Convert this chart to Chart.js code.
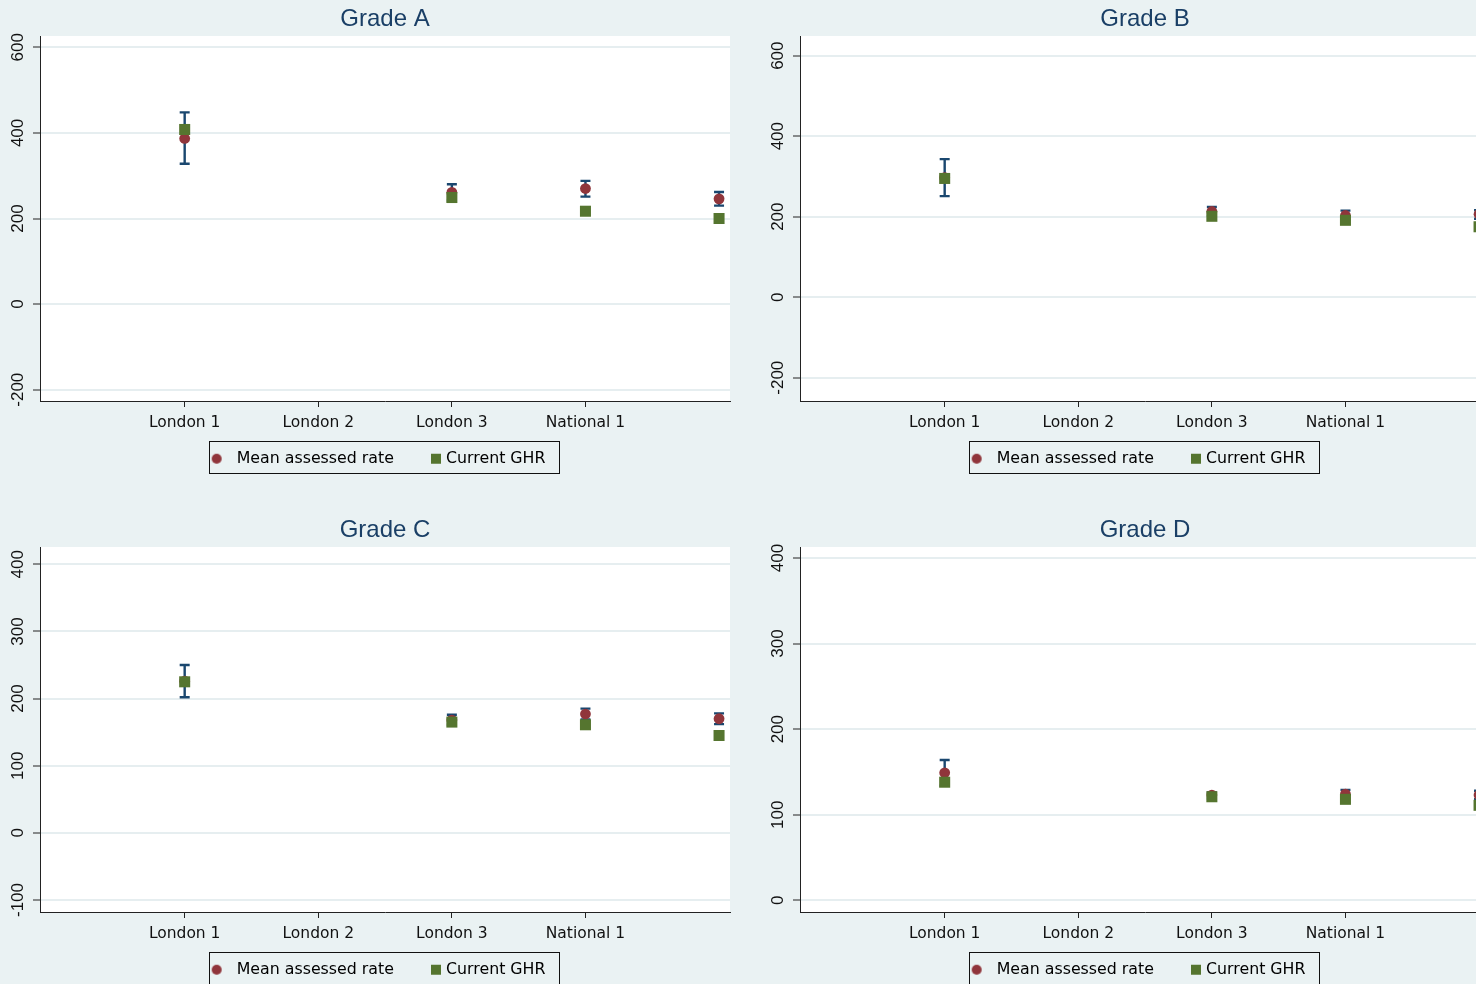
<!DOCTYPE html>
<html>
<head>
<meta charset="utf-8">
<script src="https://cdn.jsdelivr.net/npm/chart.js@4.4.1/dist/chart.umd.min.js"></script>
<style>
  html, body { margin: 0; padding: 0; background: #eaf2f3; }
  body { width: 1476px; height: 984px; overflow: hidden; position: relative; }
  canvas { position: absolute; }
</style>
</head>
<body>
<canvas id="gradeA"></canvas>
<canvas id="gradeB"></canvas>
<canvas id="gradeC"></canvas>
<canvas id="gradeD"></canvas>
<script>
// ---- data -------------------------------------------------------------
// Labelled groups on the x axis (the fifth group carries no label)
const categories = ['London 1', 'London 2', 'London 3', 'National 1'];
const seriesNames = ['Mean assessed rate', 'Current GHR'];
const grades = ['Grade A', 'Grade B', 'Grade C', 'Grade D'];

const gradeAMean = [387, null, 261, 270, 246];
const gradeAGhr  = [408, null, 249, 217, 200];
const gradeALow  = [328, null, 242, 251, 230];
const gradeAHigh = [448, null, 280, 288, 262];
const gradeATicks = [-200, 0, 200, 400, 600];

const gradeBMean = [297, null, 213, 203, 206];
const gradeBGhr  = [295, null, 201, 191, 175];
const gradeBLow  = [251, null, 202, 192, 195];
const gradeBHigh = [343, null, 224, 215, 216];
const gradeBTicks = [-200, 0, 200, 400, 600];

const gradeCMean = [226, null, 168, 177, 170];
const gradeCGhr  = [225, null, 165, 161, 145];
const gradeCLow  = [202, null, 161, 169, 162];
const gradeCHigh = [250, null, 176, 185, 178];
const gradeCTicks = [-100, 0, 100, 200, 300, 400];

const gradeDMean = [149, null, 123, 124, 123];
const gradeDGhr  = [138, null, 121, 118, 111];
const gradeDLow  = [134, null, 119, 119, 118];
const gradeDHigh = [164, null, 126, 129, 128];
const gradeDTicks = [0, 100, 200, 300, 400];

// ---- styling / layout --------------------------------------------------
const COLORS = { mean: '#90353b', ghr: '#55752f', ci: '#1a476f', title: '#1a3f66', axis: '#222222', grid: '#e6eef0' };
const SANS = '"Liberation Sans", Arial, sans-serif';
const WIDE = '"DejaVu Sans", Verdana, sans-serif';
const AREA_W = 690, AREA_TOP = 36, AREA_H = 365, CANVAS_H = 490;
const LEGEND_FS = 15.8, TICK_FS = 17, CAT_FS = 15.5;
const Y_TICK_LEN = 7, LABEL_GAP = 21.3;
const CAT_LABEL_CENTER = 21.8;               // below the x axis line

const measure = document.createElement('canvas').getContext('2d');
measure.font = `${LEGEND_FS}px ${WIDE}`;
const legT1 = measure.measureText(seriesNames[0]).width;
const legT2 = measure.measureText(seriesNames[1]).width;
const legHalf = LEGEND_FS / 2;
const TEXT1 = 196.7, TEXT2 = 406;            // legend text starts, from plot left
const legPad = Math.max(AREA_W - legT1 - legT2 - 2 * TEXT1, 4);
const legBox = Math.max((TEXT2 - TEXT1) - legHalf - legT1 - legPad, 1);
const xAxisH = Math.max(57.7 - legHalf - legPad, 0);
const legendH = LEGEND_FS + legPad + 10;
const padBottom = CANVAS_H - AREA_TOP - AREA_H - xAxisH - legendH;

function markerImage(kind, dx) {
  const c = document.createElement('canvas');
  c.width = 60; c.height = 20;
  const g = c.getContext('2d');
  if (kind === 'circle') {
    g.fillStyle = COLORS.mean;
    g.beginPath(); g.arc(30 + dx, 10, 5, 0, Math.PI * 2); g.fill();
  } else {
    g.fillStyle = COLORS.ghr;
    g.fillRect(30 + dx - 5, 5, 10, 10);
  }
  return c;
}
const legendCircle = markerImage('circle', Math.round(legBox / 2 + legHalf - 20));
const legendSquare = markerImage('rect', Math.round(legBox / 2 + legHalf - 10));

const toPoints = vals => vals.map((v, i) => (v == null ? null : { x: i + 1, y: v })).filter(Boolean);

// white plot region
const plotBackground = {
  id: 'plotBackground',
  beforeDraw(chart) {
    const { ctx, chartArea: a } = chart;
    ctx.save();
    ctx.fillStyle = '#ffffff';
    ctx.fillRect(a.left, a.top, a.right - a.left, a.bottom - a.top);
    ctx.restore();
  }
};

// capped confidence intervals drawn beneath the markers
const errorBars = {
  id: 'errorBars',
  beforeDatasetsDraw(chart) {
    const { ctx, chartArea: a, scales: { x, y } } = chart;
    ctx.save();
    ctx.beginPath();
    ctx.rect(a.left, a.top, a.right - a.left, a.bottom - a.top);
    ctx.clip();
    ctx.strokeStyle = COLORS.ci;
    ctx.lineWidth = 2.4;
    chart.data.datasets.forEach(ds => {
      if (!ds.ciLow) return;
      ds.ciLow.forEach((lo, i) => {
        const hi = ds.ciHigh[i];
        if (lo == null || hi == null) return;
        const px = x.getPixelForValue(i + 1);
        const pl = y.getPixelForValue(lo), ph = y.getPixelForValue(hi);
        ctx.beginPath();
        ctx.moveTo(px, pl); ctx.lineTo(px, ph);
        ctx.moveTo(px - 5, pl); ctx.lineTo(px + 5, pl);
        ctx.moveTo(px - 5, ph); ctx.lineTo(px + 5, ph);
        ctx.stroke();
      });
    });
    ctx.restore();
  }
};

// outline around the legend keys
const legendFrame = {
  id: 'legendFrame',
  afterDraw(chart) {
    const hb = chart.legend && chart.legend.legendHitBoxes;
    if (!hb || hb.length < 2) return;
    const ctx = chart.ctx;
    const text1 = hb[0].left + legBox + legHalf;
    const end2 = hb[1].left + hb[1].width;
    const cy = hb[0].top + legHalf;
    const l = Math.round(text1 - 27.7) + 0.5, r = Math.round(end2 + 13.3) + 0.5;
    const t = Math.round(cy - 17.4) + 0.5, b = Math.round(cy + 14.3) + 0.5;
    ctx.save();
    ctx.strokeStyle = '#111111';
    ctx.lineWidth = 1;
    ctx.strokeRect(l, t, r - l, b - t);
    ctx.restore();
  }
};

function makePanel(p) {
  const canvas = document.getElementById(p.id);
  canvas.width = p.axisWidth + AREA_W + 10;
  canvas.height = CANVAS_H;
  canvas.style.left = p.left + 'px';
  canvas.style.top = p.top + 'px';

  measure.font = `${TICK_FS}px ${SANS}`;
  const widest = Math.max(...p.ticks.map(v => measure.measureText(String(v)).width));
  const yPad = LABEL_GAP - Y_TICK_LEN - widest / 2;

  new Chart(canvas, {
    type: 'scatter',
    data: {
      datasets: [
        {
          label: seriesNames[1],
          data: toPoints(p.ghr),
          pointStyle: 'rect',
          pointRadius: 7.8,
          pointHoverRadius: 7.8,
          backgroundColor: COLORS.ghr,
          borderWidth: 0,
          pointBorderWidth: 0
        },
        {
          label: seriesNames[0],
          data: toPoints(p.mean),
          pointStyle: 'circle',
          pointRadius: 5.4,
          pointHoverRadius: 5.4,
          backgroundColor: COLORS.mean,
          borderWidth: 0,
          pointBorderWidth: 0,
          ciLow: p.low,
          ciHigh: p.high
        }
      ]
    },
    options: {
      responsive: false,
      animation: false,
      devicePixelRatio: 1,
      events: [],
      layout: { padding: { left: 0, top: 0, right: 10, bottom: padBottom } },
      scales: {
        x: {
          type: 'linear',
          bounds: 'data',
          min: -0.083,
          max: 5.082,
          afterBuildTicks: s => { s.ticks = categories.map((c, i) => ({ value: i + 1 })); },
          afterFit: s => { s.height = xAxisH; },
          grid: { drawOnChartArea: false, drawTicks: true, tickLength: 6, tickColor: COLORS.axis, tickWidth: 1 },
          border: { display: true, color: COLORS.axis, width: 1 },
          ticks: {
            // mirrored so the labels are not clipped to the slim axis box
            mirror: true,
            autoSkip: false, minRotation: 0, maxRotation: 0,
            padding: -(CAT_LABEL_CENTER + CAT_FS * 0.6),
            color: '#111111',
            font: { family: WIDE, size: CAT_FS },
            callback: v => categories[v - 1] ?? ''
          }
        },
        y: {
          type: 'linear',
          bounds: 'data',
          min: p.yMin,
          max: p.yMax,
          afterBuildTicks: s => { s.ticks = p.ticks.map(v => ({ value: v })); },
          afterFit: s => { s.width = p.axisWidth; },
          grid: { color: COLORS.grid, lineWidth: 2, drawTicks: true, tickLength: Y_TICK_LEN, tickColor: COLORS.axis, tickWidth: 1 },
          border: { display: true, color: COLORS.axis, width: 1 },
          ticks: {
            autoSkip: false, minRotation: 90, maxRotation: 90, crossAlign: 'center',
            padding: yPad,
            color: '#111111',
            font: { family: SANS, size: TICK_FS },
            callback: v => String(v)
          }
        }
      },
      plugins: {
        tooltip: { enabled: false },
        title: {
          display: true,
          text: p.title,
          fullSize: false,
          color: COLORS.title,
          font: { family: SANS, size: 24, weight: 'normal' },
          padding: { top: 4.8, bottom: 2.4 }
        },
        legend: {
          display: true,
          position: 'bottom',
          align: 'center',
          fullSize: false,
          labels: {
            usePointStyle: true,
            pointStyleWidth: legBox,
            padding: legPad,
            color: '#000000',
            font: { family: WIDE, size: LEGEND_FS },
            generateLabels: chart => [
              { text: chart.data.datasets[1].label, pointStyle: legendCircle, fillStyle: COLORS.mean, strokeStyle: COLORS.mean, lineWidth: 0, hidden: false, datasetIndex: 1 },
              { text: chart.data.datasets[0].label, pointStyle: legendSquare, fillStyle: COLORS.ghr, strokeStyle: COLORS.ghr, lineWidth: 0, hidden: false, datasetIndex: 0 }
            ]
          }
        }
      }
    },
    plugins: [plotBackground, errorBars, legendFrame]
  });
}

makePanel({ id: 'gradeA', title: grades[0], left: 0,   top: 0,   axisWidth: 40, yMin: -226.4, yMax: 626.4, ticks: gradeATicks, mean: gradeAMean, ghr: gradeAGhr, low: gradeALow, high: gradeAHigh });
makePanel({ id: 'gradeB', title: grades[1], left: 740, top: 0,   axisWidth: 60, yMin: -257.9, yMax: 648.9, ticks: gradeBTicks, mean: gradeBMean, ghr: gradeBGhr, low: gradeBLow, high: gradeBHigh });
makePanel({ id: 'gradeC', title: grades[2], left: 0,   top: 511, axisWidth: 40, yMin: -117.9, yMax: 425.8, ticks: gradeCTicks, mean: gradeCMean, ghr: gradeCGhr, low: gradeCLow, high: gradeCHigh });
makePanel({ id: 'gradeD', title: grades[3], left: 740, top: 511, axisWidth: 60, yMin: -13.7,  yMax: 412.9, ticks: gradeDTicks, mean: gradeDMean, ghr: gradeDGhr, low: gradeDLow, high: gradeDHigh });
</script>
</body>
</html>
